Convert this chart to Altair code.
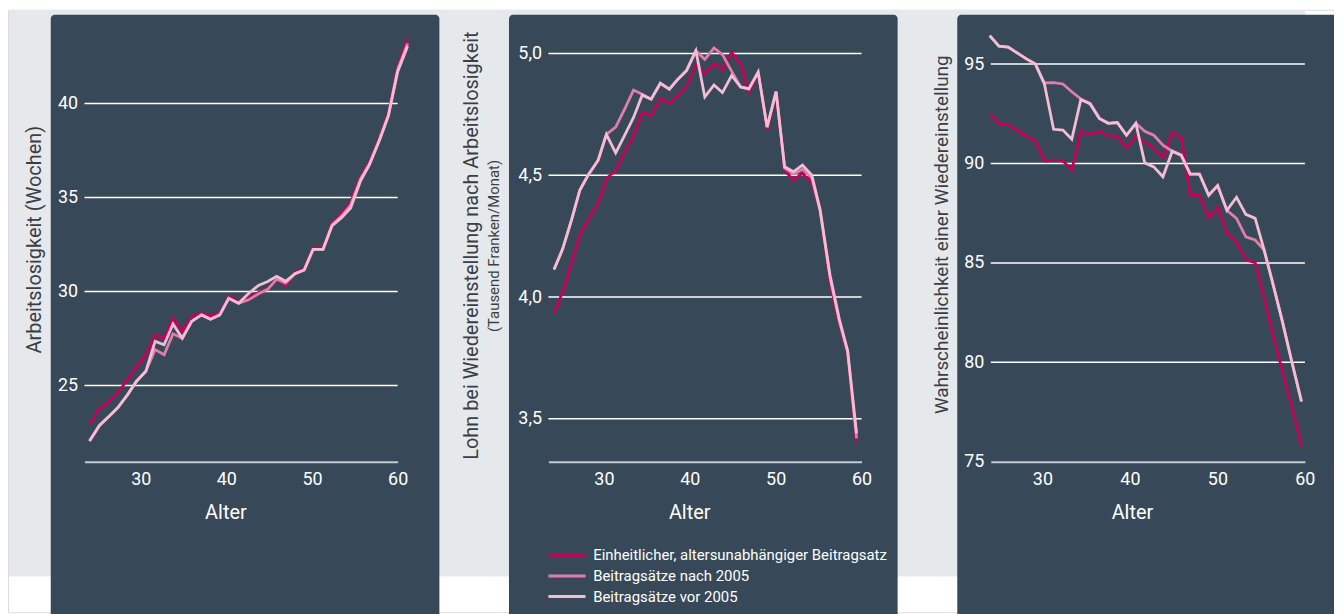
import altair as alt
import pandas as pd

# ---------------- data ----------------
SERIES = [
    "Einheitlicher, altersunabhängiger Beitragsatz",
    "Beitragsätze nach 2005",
    "Beitragsätze vor 2005",
]
COLORS = ["#c6005a", "#e07eaa", "#f4bdd3"]

# Panel 1: Arbeitslosigkeit (Wochen)
ages_1 = [24.02, 25.18, 26.34, 27.31, 28.47, 29.51, 30.60, 31.68, 32.73, 33.77,
          34.85, 35.94, 37.10, 38.15, 39.23, 40.27, 41.43, 42.59, 43.75, 44.83,
          45.88, 46.92, 48.01, 49.09, 50.13, 51.29, 52.34, 53.42, 54.51, 55.67,
          56.71, 57.88, 58.92, 60.00, 61.16]
red_1 = [22.94, 23.77, 24.17, 24.61, 25.32, 26.02, 26.64, 27.70, 27.52, 28.58,
         27.88, 28.67, 28.85, 28.71, 28.85, 29.73, 29.50, 29.65, 29.95, 30.15,
         30.66, 30.33, 31.02, 31.22, 32.32, 32.32, 33.65, 34.13, 34.75, 36.10,
         36.89, 38.17, 39.52, 41.91, 43.46]
mid_1 = [22.05, 22.88, 23.38, 23.82, 24.52, 25.23, 25.76, 26.91, 26.64, 27.75,
         27.52, 28.41, 28.76, 28.53, 28.76, 29.64, 29.38, 29.56, 29.88, 30.12,
         30.66, 30.45, 30.95, 31.15, 32.25, 32.25, 33.55, 34.00, 34.60, 36.00,
         36.80, 38.10, 39.40, 41.80, 43.20]
light_1 = [22.05, 22.88, 23.38, 23.82, 24.52, 25.23, 25.76, 27.35, 27.17, 28.28,
           27.52, 28.41, 28.76, 28.53, 28.76, 29.64, 29.38, 29.90, 30.33, 30.54,
           30.81, 30.55, 30.95, 31.15, 32.25, 32.25, 33.50, 33.92, 34.45, 35.89,
           36.75, 38.05, 39.35, 41.70, 43.05]

# Panel 2: Lohn bei Wiedereinstellung (Tausend Franken/Monat)
ages_2 = [24.19, 25.20, 26.24, 27.20, 28.17, 29.33, 30.29, 31.37, 32.41, 33.45,
          34.46, 35.50, 36.57, 37.62, 38.59, 39.63, 40.71, 41.75, 42.82, 43.80,
          44.87, 45.91, 46.88, 47.96, 49.00, 50.05, 51.04, 52.08, 53.12, 54.21,
          55.17, 56.33, 57.41, 58.38, 59.42]
red_2 = [3.934, 4.022, 4.142, 4.257, 4.318, 4.386, 4.488, 4.519, 4.596, 4.664,
         4.759, 4.745, 4.817, 4.795, 4.827, 4.867, 4.953, 4.917, 4.958, 4.935,
         5.005, 4.958, 4.843, 4.921, 4.687, 4.840, 4.519, 4.481, 4.508, 4.467,
         4.359, 4.060, 3.890, 3.770, 3.400]
mid_2 = [4.113, 4.198, 4.318, 4.440, 4.501, 4.562, 4.668, 4.698, 4.772, 4.850,
         4.833, 4.813, 4.878, 4.854, 4.894, 4.931, 5.012, 4.976, 5.023, 4.996,
         4.928, 4.863, 4.855, 4.924, 4.698, 4.844, 4.530, 4.505, 4.525, 4.490,
         4.355, 4.080, 3.900, 3.775, 3.420]
light_2 = [4.113, 4.198, 4.318, 4.440, 4.501, 4.562, 4.668, 4.592, 4.664, 4.738,
           4.829, 4.813, 4.878, 4.854, 4.894, 4.931, 5.012, 4.822, 4.871, 4.840,
           4.910, 4.863, 4.855, 4.924, 4.698, 4.844, 4.535, 4.515, 4.542, 4.501,
           4.360, 4.090, 3.910, 3.780, 3.440]

# Panel 3: Wahrscheinlichkeit einer Wiedereinstellung
ages_3 = [23.98, 25.03, 26.09, 27.11, 28.18, 29.20, 30.23, 31.28, 32.34, 33.36,
          34.39, 35.45, 36.51, 37.53, 38.56, 39.61, 40.68, 41.70, 42.73, 43.78,
          44.84, 45.86, 46.89, 47.95, 49.01, 50.03, 51.09, 52.19, 53.25, 54.32,
          55.34, 56.40, 57.42, 58.48, 59.61]
red_3 = [92.51, 92.02, 91.96, 91.66, 91.38, 91.12, 90.13, 90.17, 90.13, 89.67,
         91.62, 91.46, 91.62, 91.38, 91.38, 90.78, 91.38, 91.06, 90.78, 90.27,
         91.58, 91.32, 88.40, 88.40, 87.28, 87.80, 86.51, 86.05, 85.15, 85.01,
         83.22, 81.27, 79.58, 77.79, 75.80]
mid_3 = [96.43, 95.90, 95.86, 95.56, 95.26, 95.00, 94.05, 94.07, 94.00, 93.61,
         93.25, 93.01, 92.27, 92.02, 92.06, 91.42, 92.02, 91.62, 91.42, 90.92,
         90.62, 90.42, 89.47, 89.47, 88.40, 88.89, 87.64, 87.24, 86.31, 86.15,
         85.65, 83.86, 82.07, 80.08, 78.03]
light_3 = [96.43, 95.90, 95.86, 95.56, 95.26, 95.00, 94.00, 91.72, 91.68, 91.22,
           93.21, 93.01, 92.27, 92.02, 92.06, 91.42, 92.02, 90.03, 89.83, 89.33,
           90.62, 90.42, 89.47, 89.47, 88.40, 88.89, 87.64, 88.30, 87.44, 87.24,
           85.65, 83.86, 82.07, 80.08, 78.03]

xticks = [30, 40, 50, 60]
yticks_1 = [25, 30, 35, 40]
yticks_2 = [3.5, 4.0, 4.5, 5.0]
yticks_3 = [75, 80, 85, 90, 95]
grid_3 = [80, 85, 90, 95]

# ---------------- styling ----------------
FONT = "Roboto"
SLATE = "#374958"
PAGE_GRAY = "#e6e9ec"
AXISLINE = "#c3c9cf"
TITLE_DARK = "#3a3f45"
W, H = 1334, 606
PLOT_TOP, PLOT_BOTTOM = 16.6, 454.6

color_scale = alt.Scale(domain=SERIES, range=COLORS)


def long_df(ages, red, mid, light):
    rows = []
    for s, vals in zip(SERIES, [red, mid, light]):
        for a, v in zip(ages, vals):
            rows.append({"age": a, "value": v, "series": s})
    return pd.DataFrame(rows)


def y_axis(values, x0, title, title_x, title_y, title_size, label_expr=None):
    kw = dict(
        values=values, orient="left", offset=-x0, title=title,
        titleX=title_x - x0, titleY=title_y, titleAngle=270,
        titleAlign="center", titleBaseline="middle",
        titleFontSize=title_size, titleColor=TITLE_DARK, titleFontWeight="normal",
        titleFont=FONT, labelColor="white", labelFontSize=18, labelFont=FONT,
        labelPadding=7, ticks=False, tickSize=0, domain=False, grid=False,
        zindex=1, labelFlush=False,
    )
    if label_expr:
        kw["labelExpr"] = label_expr
    return alt.Axis(**kw)


def x_axis(title_x):
    return alt.Axis(
        values=xticks, orient="bottom", offset=-(H - PLOT_BOTTOM), title="Alter",
        titleX=title_x, titleY=57, titleBaseline="alphabetic", titleAlign="center",
        titleFontSize=20, titleColor="white", titleFontWeight="normal", titleFont=FONT,
        labelColor="white", labelFontSize=18, labelFont=FONT,
        labelBaseline="alphabetic", labelPadding=22.6, labelFlush=False,
        ticks=False, tickSize=0, domain=True, domainColor=AXISLINE,
        domainWidth=2, grid=False, zindex=1,
    )


def panel(df, grid_vals, xdom, xr, ydom, yax, xax):
    ys = alt.Scale(domain=ydom, range=[PLOT_BOTTOM, PLOT_TOP], zero=False, nice=False)
    xs = alt.Scale(domain=xdom, range=xr, zero=False, nice=False)
    grid = alt.Chart(pd.DataFrame({"value": grid_vals})).mark_rule(
        color="white", strokeWidth=1.5
    ).encode(
        y=alt.Y("value:Q", scale=ys, axis=yax),
        x=alt.value(xr[0]), x2=alt.value(xr[1]),
    )
    lines = alt.Chart(df).mark_line(strokeWidth=2.8, clip=False).encode(
        x=alt.X("age:Q", scale=xs, axis=xax),
        y=alt.Y("value:Q", scale=ys, axis=yax),
        color=alt.Color("series:N", scale=color_scale, legend=None),
    )
    return alt.layer(grid, lines)


one = pd.DataFrame({"k": [1]})

# decorative backgrounds (page band + three dark panels)
gray = alt.Chart(one).mark_rect(color=PAGE_GRAY).encode(
    x=alt.value(1), x2=alt.value(1305), y=alt.value(0), y2=alt.value(570))
bgs = []
for x0, x1 in [(43, 434), (504, 895), (955, 1340)]:
    bgs.append(
        alt.Chart(one).mark_rect(color=SLATE, cornerRadiusTopLeft=4, cornerRadiusTopRight=4)
        .encode(x=alt.value(x0), x2=alt.value(x1), y=alt.value(5), y2=alt.value(H + 4))
    )
deco = alt.layer(gray, *bgs)

# panel 1
xr1 = [77, 392]
p1 = panel(
    long_df(ages_1, red_1, mid_1, light_1), yticks_1, [23.44, 60], xr1, [20.95, 44.11],
    y_axis(yticks_1, xr1[0], "Arbeitslosigkeit (Wochen)", 26.5, 230.7, 20),
    x_axis(218.7),
)

# panel 2
xr2 = [543.7, 858.7]
p2 = panel(
    long_df(ages_2, red_2, mid_2, light_2), yticks_2, [23.54, 60], xr2, [3.324, 5.112],
    y_axis(yticks_2, xr2[0], "Lohn bei Wiedereinstellung nach Arbeitslosigkeit", 466, 236.7, 20,
           label_expr="replace(format(datum.value, '.1f'), '.', ',')"),
    x_axis(685.3),
)
subtitle = alt.Chart(one).mark_text(
    text="(Tausend Franken/Monat)", angle=270, align="center", baseline="middle",
    fontSize=15, color=TITLE_DARK, font=FONT,
).encode(x=alt.value(489.3), y=alt.value(237.6))

# panel 3
xr3 = [988.7, 1304.7]
p3 = panel(
    long_df(ages_3, red_3, mid_3, light_3), grid_3, [24.1, 60], xr3, [75, 96.9],
    y_axis(yticks_3, xr3[0], "Wahrscheinlichkeit einer Wiedereinstellung", 939, 225.8, 19),
    x_axis(1130.7),
)

# legend (drawn in panel 2)
leg_df = pd.DataFrame({"series": SERIES, "idx": [0, 1, 2]})
leg_y = alt.Y("idx:Q", scale=alt.Scale(domain=[0, 2], range=[548.7, 590.3], zero=False, nice=False), axis=None)
leg_rules = alt.Chart(leg_df).mark_rule(strokeWidth=3).encode(
    x=alt.value(543.7), x2=alt.value(581), y=leg_y,
    color=alt.Color("series:N", scale=color_scale, legend=None),
)
leg_text = alt.Chart(leg_df).mark_text(
    align="left", baseline="middle", fontSize=15, color="white", font=FONT
).encode(x=alt.value(588.7), y=leg_y, text="series:N")
legend = alt.layer(leg_rules, leg_text)

chart = alt.layer(deco, p1, p2, subtitle, p3, legend).resolve_scale(
    x="independent", y="independent"
).properties(
    width=W, height=H, padding=0,
    autosize=alt.AutoSizeParams(type="none"),
).configure_view(strokeWidth=0).configure(font=FONT, background="white")

chart.save("out.html", embed_options={"renderer": "svg", "actions": False})
